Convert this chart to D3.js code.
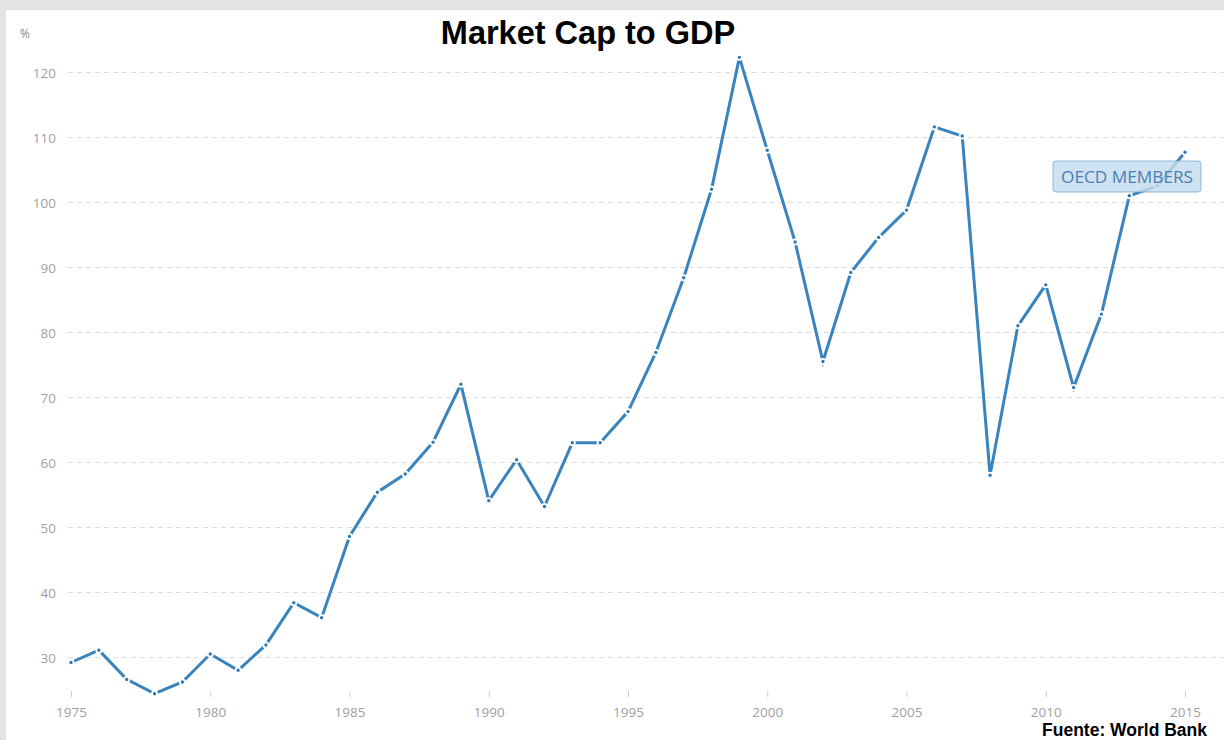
<!DOCTYPE html>
<html>
<head>
<meta charset="utf-8">
<script src="https://cdn.jsdelivr.net/npm/d3@7"></script>
<style>
  html, body { margin: 0; padding: 0; background: #e3e3e3; }
  svg { display: block; }
</style>
</head>
<body>
<svg id="chart" width="1224" height="740"></svg>
<script>
const years = [1975,1976,1977,1978,1979,1980,1981,1982,1983,1984,1985,1986,1987,1988,1989,1990,1991,1992,1993,1994,1995,1996,1997,1998,1999,2000,2001,2002,2003,2004,2005,2006,2007,2008,2009,2010,2011,2012,2013,2014,2015];
const marketCapPct = [29.2,31.1,26.6,24.4,26.2,30.5,28.0,31.9,38.4,36.1,48.6,55.4,58.2,63.1,72.0,54.1,60.4,53.2,63.0,63.0,67.8,76.9,88.4,102.0,122.3,108.0,93.9,75.5,89.2,94.6,98.8,111.6,110.2,58.0,81.0,87.3,71.5,82.8,101.0,102.5,107.7];
const yTicks = [30,40,50,60,70,80,90,100,110,120];
const xTicks = [1975,1980,1985,1990,1995,2000,2005,2010,2015];
const title = "Market Cap to GDP";
const unitLabel = "%";
const seriesLabel = "OECD MEMBERS";
const sourceLabel = "Fuente: World Bank";

const svg = d3.select("#chart");
const W = 1224, H = 740;

// white panel
svg.append("rect").attr("x", 6).attr("y", 10).attr("width", W - 6).attr("height", H - 10).attr("fill", "#ffffff");

const x = d3.scaleLinear().domain([1975, 2015]).range([71, 1185]);
const y = d3.scaleLinear().domain([30, 120]).range([657.3, 72.3]);

// gridlines
svg.append("g").selectAll("line").data(yTicks).join("line")
  .attr("x1", 68).attr("x2", W)
  .attr("y1", d => Math.round(y(d)) + 0.5).attr("y2", d => Math.round(y(d)) + 0.5)
  .attr("stroke", "#dddddd").attr("stroke-width", 1).attr("stroke-dasharray", "5,4");

// y axis labels
const yAxis = d3.axisLeft(y).tickValues(yTicks).tickSize(0).tickPadding(0);
const gy = svg.append("g").attr("transform", "translate(56,0)").call(yAxis);
gy.select(".domain").remove();
gy.selectAll("text").attr("font-family", "'Open Sans', sans-serif").attr("font-size", 13.5)
  .attr("fill", "#a0a0a0").attr("dy", "0.35em");

// x axis
const xAxis = d3.axisBottom(x).tickValues(xTicks).tickFormat(d3.format("d")).tickSize(6).tickPadding(10);
const gx = svg.append("g").attr("transform", "translate(0,691)").call(xAxis);
gx.select(".domain").remove();
gx.selectAll("line").attr("stroke", "#cccccc");
gx.selectAll("text").attr("font-family", "'Open Sans', sans-serif").attr("font-size", 13.5)
  .attr("fill", "#a0a0a0");

// unit label
svg.append("text").attr("x", 20).attr("y", 38).text(unitLabel)
  .attr("font-family", "'Open Sans', sans-serif").attr("font-size", 12).attr("fill", "#888");

// line
const data = years.map((yr, i) => ({ yr, v: marketCapPct[i] }));
const line = d3.line().x(d => x(d.yr)).y(d => y(d.v));
svg.append("path").datum(data).attr("d", line)
  .attr("fill", "none").attr("stroke", "#3a84bd").attr("stroke-width", 3)
  .attr("stroke-linejoin", "miter").attr("stroke-linecap", "butt");

svg.append("g").selectAll("circle").data(data).join("circle")
  .attr("cx", d => x(d.yr)).attr("cy", d => y(d.v)).attr("r", 2.6)
  .attr("fill", "#2f78b2").attr("stroke", "#ffffff").attr("stroke-width", 1.8);

// series label box
const lg = svg.append("g");
lg.append("rect").attr("x", 1053).attr("y", 161).attr("width", 148).attr("height", 31).attr("rx", 3)
  .attr("fill", "rgba(197,220,238,0.82)").attr("stroke", "rgba(120,170,210,0.8)").attr("stroke-width", 1);
lg.append("text").attr("x", 1127).attr("y", 182.5).attr("text-anchor", "middle").text(seriesLabel)
  .attr("font-family", "'Open Sans', sans-serif").attr("font-size", 16.5).attr("fill", "#4a7fb2")
  .attr("textLength", 132).attr("lengthAdjust", "spacingAndGlyphs");

// title
svg.append("text").attr("x", 588).attr("y", 44).attr("text-anchor", "middle").text(title)
  .attr("font-family", "'Liberation Sans', Arial, sans-serif").attr("font-weight", "bold")
  .attr("font-size", 32.5).attr("fill", "#000");

// source
svg.append("text").attr("x", 1207).attr("y", 736).attr("text-anchor", "end").text(sourceLabel)
  .attr("font-family", "'Liberation Sans', Arial, sans-serif").attr("font-weight", "bold")
  .attr("font-size", 17.5).attr("fill", "#000");
</script>
</body>
</html>
